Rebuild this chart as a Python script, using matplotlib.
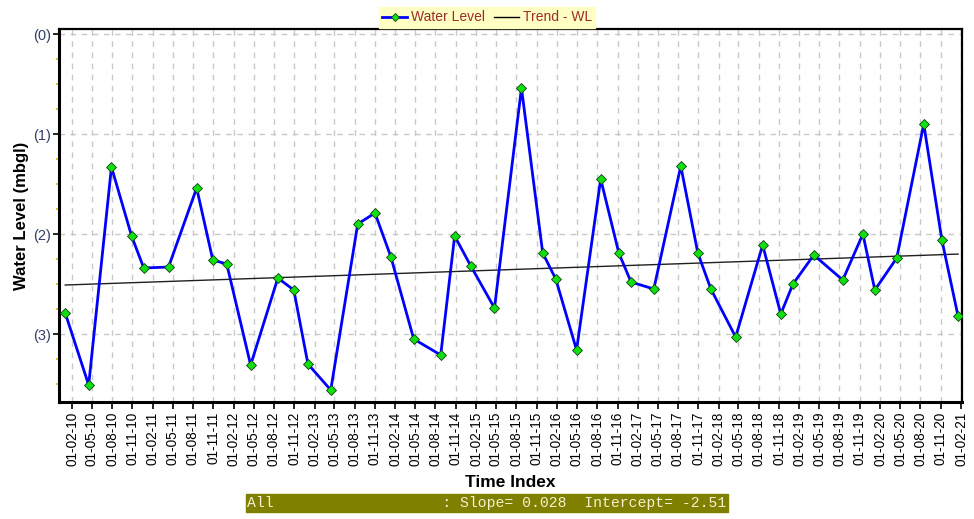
import matplotlib
matplotlib.use("Agg")
import matplotlib.pyplot as plt
import matplotlib.dates as mdates
from matplotlib.lines import Line2D
from matplotlib.ticker import MultipleLocator
import numpy as np
import pandas as pd

plt.rcParams['font.family'] = ['Liberation Sans', 'DejaVu Sans']

# observation dates and water level (metres below ground level)
dates = ['2010-01-01', '2010-04-17', '2010-07-29', '2010-10-28', '2010-12-22',
         '2011-04-13', '2011-08-18', '2011-10-30', '2012-01-01', '2012-04-18',
         '2012-08-19', '2012-10-30', '2013-01-02', '2013-04-15', '2013-08-15',
         '2013-11-01', '2014-01-12', '2014-04-25', '2014-08-25', '2014-10-27',
         '2015-01-08', '2015-04-25', '2015-08-25', '2015-11-29', '2016-01-27',
         '2016-04-30', '2016-08-17', '2016-11-07', '2017-01-01', '2017-04-14',
         '2017-08-14', '2017-10-30', '2017-12-28', '2018-04-19', '2018-08-19',
         '2018-11-09', '2019-01-03', '2019-04-07', '2019-08-16', '2019-11-15',
         '2020-01-08', '2020-04-16', '2020-08-16', '2020-11-06', '2021-01-18']
water_level = [2.79, 3.51, 1.33, 2.02, 2.34, 2.33, 1.54, 2.26, 2.30, 3.31,
               2.44, 2.56, 3.30, 3.56, 1.90, 1.79, 2.23, 3.05, 3.21, 2.02,
               2.32, 2.74, 0.54, 2.19, 2.45, 3.16, 1.45, 2.19, 2.48, 2.55,
               1.32, 2.19, 2.55, 3.03, 2.11, 2.80, 2.50, 2.21, 2.46, 2.00,
               2.56, 2.24, 0.90, 2.06, 2.82]

slope = 0.028       # per year
intercept = -2.51

y_ticks = [0, 1, 2, 3]
y_tick_labels = ['(0)', '(1)', '(2)', '(3)']

t = pd.to_datetime(dates)
years = (t - t[0]).days / 365.25
trend = -(intercept + slope * np.asarray(years))

fig = plt.figure(figsize=(9.74, 5.19), dpi=100)
ax = fig.add_axes([0.0606, 0.2254, 0.9271, 0.7187])

ax.plot(t, water_level, color='#0000ff', lw=2.0, marker='D', ms=5.5,
        mfc='#10e010', mec='#104010', mew=0.6, zorder=3)
ax.plot(t, trend, color='#202020', lw=1.0, zorder=2)

ax.set_ylim(3.68, -0.05)
ax.set_yticks(y_ticks)
ax.set_yticklabels(y_tick_labels, color='#34406a', fontsize=10.5)
ax.yaxis.set_minor_locator(MultipleLocator(0.25))
ax.tick_params(axis='y', which='minor', length=2, color='#d0c000', width=1.2)
ax.tick_params(axis='y', which='major', length=4, width=1.2, pad=2)

ticks = pd.date_range('2010-02-01', '2021-02-01', freq='3MS')
ax.set_xticks(ticks)
ax.xaxis.set_major_formatter(mdates.DateFormatter('%d-%m-%y'))
ax.tick_params(axis='x', length=5, width=1.2, labelsize=9.8, labelrotation=90, pad=2)
ax.set_xlim(pd.Timestamp('2009-12-04'), pd.Timestamp('2021-02-05'))

ax.grid(True, which='major', color='#c8c8c8', ls=(0, (4, 4)), lw=1.0)
for side in ['left', 'bottom']:
    ax.spines[side].set_linewidth(2.2)
for side in ['top', 'right']:
    ax.spines[side].set_linewidth(1.6)

ax.set_ylabel('Water Level (mbgl)', fontsize=12, fontweight='bold', labelpad=3)
ax.set_xlabel('Time Index', fontsize=12.5, fontweight='bold', labelpad=6)

handles = [Line2D([], [], color='#0000ff', lw=2, marker='D', ms=4.5,
                  mfc='#10e010', mec='#104010', mew=0.6),
           Line2D([], [], color='black', lw=1)]
leg = fig.legend(handles, ['Water Level', 'Trend - WL'], loc='upper center',
                 bbox_to_anchor=(0.5, 1.0), ncol=2, fontsize=10, frameon=True,
                 fancybox=False, facecolor='#ffffc4', edgecolor='#ffffc4',
                 handlelength=1.8, handletextpad=0.3, columnspacing=0.6,
                 borderpad=0.25, framealpha=1)
for txt in leg.get_texts():
    txt.set_color('#9c2c2c')

fig.text(0.5, 0.0308, 'All                   : Slope= 0.028  Intercept= -2.51',
         family='Liberation Mono', fontsize=10.6, color='#f4f0d0', ha='center', va='center',
         bbox=dict(boxstyle='square,pad=0.12', fc='#808000', ec='#808000'))

fig.savefig('out.png', dpi=100)
